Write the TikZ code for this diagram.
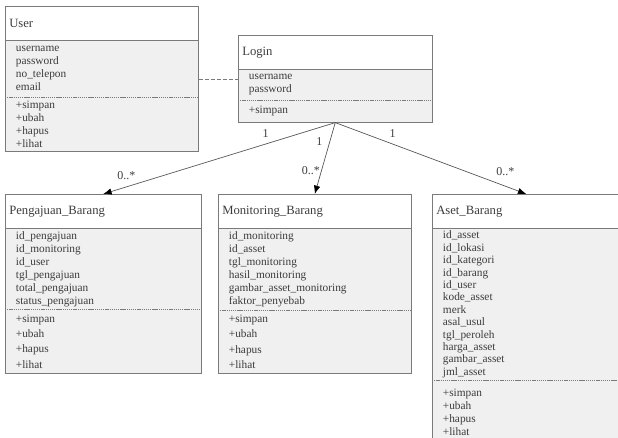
\documentclass[tikz,border=0pt]{standalone}
\usepackage{fontspec}
\setmainfont{Liberation Serif}
\usetikzlibrary{arrows.meta}

\definecolor{txtgray}{HTML}{3C3C3C}
\definecolor{linegray}{HTML}{7A7A7A}
\definecolor{boxgray}{HTML}{F0F0F0}
\definecolor{conngray}{HTML}{505050}

\begin{document}
\begin{tikzpicture}[x=0.75pt, y=-0.75pt]
	\tikzstyle{sect} = [
		rectangle, anchor=north west, text=txtgray, align=left
	]
	\tikzstyle{head} = [
		sect, fill=white, minimum height=25.5pt, inner xsep=3pt, inner ysep=0pt,
		font=\fontsize{9.5}{11}\selectfont
	]
	\tikzstyle{attr} = [
		sect, fill=boxgray, inner xsep=8pt, inner ysep=0pt,
		font=\fontsize{8.5}{9.75}\selectfont
	]
	\tikzstyle{frame} = [
		draw=linegray, line width=0.6pt
	]
	\tikzstyle{sep} = [
		draw=linegray, line width=0.5pt, dash pattern=on 1pt off 0.6pt
	]
	\tikzstyle{assoc} = [
		draw=linegray, line width=0.5pt, dash pattern=on 3pt off 1.5pt
	]
	\tikzstyle{conn} = [
		draw=conngray, line width=0.5pt, -{Latex[length=2.2mm, width=1.7mm, color=black]}
	]
	\tikzstyle{mult} = [
		text=txtgray, font=\fontsize{9}{10}\selectfont
	]
	\tikzset{
		headw/.style={minimum width=#1, text width=#1-6pt},
		attrw/.style={minimum width=#1, text width=#1-16pt}
	}

	\path[use as bounding box, clip] (0,0) rectangle (618,437);

	% User
	\node (User) [head, headw=144.75pt] at (5,6) {User};
	\node (User_attr) [attr, attrw=144.75pt, minimum height=42pt] at (User.south west)
		{username\\password\\no\_telepon\\email};
	\node (User_meth) [attr, attrw=144.75pt, minimum height=40.5pt] at (User_attr.south west)
		{+simpan\\+ubah\\+hapus\\+lihat};
	\draw[frame] (User.north west) rectangle (User_meth.south east);
	\draw[frame] (User.south west) -- (User.south east);
	\draw[sep] (User_attr.south west) -- (User_attr.south east);

	% Login
	\node (Login) [head, headw=145.5pt] at (238,35) {Login};
	\node (Login_attr) [attr, attrw=145.5pt, minimum height=22.5pt] at (Login.south west)
		{username\\password};
	\node (Login_meth) [attr, attrw=145.5pt, minimum height=16.5pt] at (Login_attr.south west)
		{+simpan};
	\draw[frame] (Login.north west) rectangle (Login_meth.south east);
	\draw[frame] (Login.south west) -- (Login.south east);
	\draw[sep] (Login_attr.south west) -- (Login_attr.south east);

	% Pengajuan_Barang
	\node (Pengajuan) [head, headw=147pt] at (5,194) {Pengajuan\_Barang};
	\node (Pengajuan_attr) [attr, attrw=147pt, minimum height=60pt] at (Pengajuan.south west)
		{id\_pengajuan\\id\_monitoring\\id\_user\\tgl\_pengajuan\\total\_pengajuan\\status\_pengajuan};
	\node (Pengajuan_meth) [attr, attrw=147pt, minimum height=48pt, font=\fontsize{8.5}{11.5}\selectfont] at (Pengajuan_attr.south west)
		{+simpan\\+ubah\\+hapus\\+lihat};
	\draw[frame] (Pengajuan.north west) rectangle (Pengajuan_meth.south east);
	\draw[frame] (Pengajuan.south west) -- (Pengajuan.south east);
	\draw[sep] (Pengajuan_attr.south west) -- (Pengajuan_attr.south east);

	% Monitoring_Barang
	\node (Monitoring) [head, headw=144.75pt] at (218,194) {Monitoring\_Barang};
	\node (Monitoring_attr) [attr, attrw=144.75pt, minimum height=60.75pt] at (Monitoring.south west)
		{id\_monitoring\\id\_asset\\tgl\_monitoring\\hasil\_monitoring\\gambar\_asset\_monitoring\\faktor\_penyebab};
	\node (Monitoring_meth) [attr, attrw=144.75pt, minimum height=47.25pt, font=\fontsize{8.5}{11.5}\selectfont] at (Monitoring_attr.south west)
		{+simpan\\+ubah\\+hapus\\+lihat};
	\draw[frame] (Monitoring.north west) rectangle (Monitoring_meth.south east);
	\draw[frame] (Monitoring.south west) -- (Monitoring.south east);
	\draw[sep] (Monitoring_attr.south west) -- (Monitoring_attr.south east);

	% Aset_Barang
	\node (Aset) [head, headw=141pt] at (432,194) {Aset\_Barang};
	\node (Aset_attr) [attr, attrw=141pt, minimum height=113.25pt, font=\fontsize{8.5}{9.3}\selectfont] at (Aset.south west)
		{id\_asset\\id\_lokasi\\id\_kategori\\id\_barang\\id\_user\\kode\_asset\\merk\\asal\_usul\\tgl\_peroleh\\harga\_asset\\gambar\_asset\\jml\_asset};
	\node (Aset_meth) [attr, attrw=141pt, minimum height=48pt] at (Aset_attr.south west)
		{+simpan\\+ubah\\+hapus\\+lihat};
	\draw[frame] (Aset.north west) rectangle (Aset_meth.south east);
	\draw[frame] (Aset.south west) -- (Aset.south east);
	\draw[sep] (Aset_attr.south west) -- (Aset_attr.south east);

	% User -- Login
	\coordinate [yshift=-8.25pt] (User_link) at (User_attr.east);
	\draw[assoc] (User_link) -- (User_link -| Login.west);

	% Login -> classes
	\draw[conn] (Login_meth.south) -- (Pengajuan.north)
		node [mult, pos=0.3, above=1pt] {1}
		node [mult, pos=0.9, above=2pt] {0..*};
	\draw[conn] (Login_meth.south) -- (Monitoring.north)
		node [mult, pos=0.26, left=2pt] {1}
		node [mult, pos=0.67, left, inner sep=1pt] {0..*};
	\draw[conn] (Login_meth.south) -- (Aset.north)
		node [mult, pos=0.3, above=1pt] {1}
		node [mult, pos=0.89, above=4pt] {0..*};

\end{tikzpicture}
\end{document}
